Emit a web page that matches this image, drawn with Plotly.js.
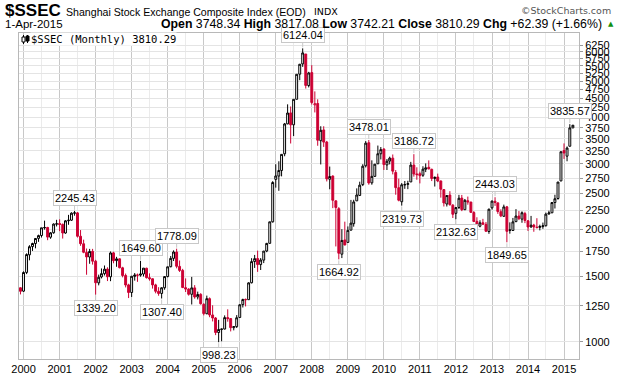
<!DOCTYPE html>
<html><head><meta charset="utf-8">
<script src="https://cdn.plot.ly/plotly-3.0.1.min.js"></script>
<style>body{margin:0;background:#fff}#c{width:626px;height:384px}</style>
</head><body><div id="c"></div>
<script>
// Monthly candles, Dec 1999 .. Apr 2015
const months = [
"1999-12-01",
"2000-01-01","2000-02-01","2000-03-01","2000-04-01","2000-05-01","2000-06-01","2000-07-01","2000-08-01","2000-09-01","2000-10-01","2000-11-01","2000-12-01",
"2001-01-01","2001-02-01","2001-03-01","2001-04-01","2001-05-01","2001-06-01","2001-07-01","2001-08-01","2001-09-01","2001-10-01","2001-11-01","2001-12-01",
"2002-01-01","2002-02-01","2002-03-01","2002-04-01","2002-05-01","2002-06-01","2002-07-01","2002-08-01","2002-09-01","2002-10-01","2002-11-01","2002-12-01",
"2003-01-01","2003-02-01","2003-03-01","2003-04-01","2003-05-01","2003-06-01","2003-07-01","2003-08-01","2003-09-01","2003-10-01","2003-11-01","2003-12-01",
"2004-01-01","2004-02-01","2004-03-01","2004-04-01","2004-05-01","2004-06-01","2004-07-01","2004-08-01","2004-09-01","2004-10-01","2004-11-01","2004-12-01",
"2005-01-01","2005-02-01","2005-03-01","2005-04-01","2005-05-01","2005-06-01","2005-07-01","2005-08-01","2005-09-01","2005-10-01","2005-11-01","2005-12-01",
"2006-01-01","2006-02-01","2006-03-01","2006-04-01","2006-05-01","2006-06-01","2006-07-01","2006-08-01","2006-09-01","2006-10-01","2006-11-01","2006-12-01",
"2007-01-01","2007-02-01","2007-03-01","2007-04-01","2007-05-01","2007-06-01","2007-07-01","2007-08-01","2007-09-01","2007-10-01","2007-11-01","2007-12-01",
"2008-01-01","2008-02-01","2008-03-01","2008-04-01","2008-05-01","2008-06-01","2008-07-01","2008-08-01","2008-09-01","2008-10-01","2008-11-01","2008-12-01",
"2009-01-01","2009-02-01","2009-03-01","2009-04-01","2009-05-01","2009-06-01","2009-07-01","2009-08-01","2009-09-01","2009-10-01","2009-11-01","2009-12-01",
"2010-01-01","2010-02-01","2010-03-01","2010-04-01","2010-05-01","2010-06-01","2010-07-01","2010-08-01","2010-09-01","2010-10-01","2010-11-01","2010-12-01",
"2011-01-01","2011-02-01","2011-03-01","2011-04-01","2011-05-01","2011-06-01","2011-07-01","2011-08-01","2011-09-01","2011-10-01","2011-11-01","2011-12-01",
"2012-01-01","2012-02-01","2012-03-01","2012-04-01","2012-05-01","2012-06-01","2012-07-01","2012-08-01","2012-09-01","2012-10-01","2012-11-01","2012-12-01",
"2013-01-01","2013-02-01","2013-03-01","2013-04-01","2013-05-01","2013-06-01","2013-07-01","2013-08-01","2013-09-01","2013-10-01","2013-11-01","2013-12-01",
"2014-01-01","2014-02-01","2014-03-01","2014-04-01","2014-05-01","2014-06-01","2014-07-01","2014-08-01","2014-09-01","2014-10-01","2014-11-01","2014-12-01",
"2015-01-01","2015-02-01","2015-03-01","2015-04-01"];

const openV = [
1397,
1368,1536,1712,1801,1836,1895,1929,2023,2027,1909,1962,2070,
2077,2066,1959,2113,2120,2214,2218,1920,1833,1738,1689,1749,
1646,1440,1494,1524,1568,1495,1733,1652,1670,1580,1507,1422,
1357,1499,1511,1510,1521,1576,1487,1477,1422,1367,1349,1397,
1497,1591,1675,1742,1594,1555,1398,1386,1342,1396,1320,1341,
1261,1190,1306,1181,1159,1060,1080,1083,1162,1155,1092,1099,
1163,1259,1300,1298,1441,1643,1673,1612,1657,1753,1838,2099,
2728,2784,2882,3194,3842,4111,3820,4472,5222,5563,5914,4867,
5273,4320,4358,3463,3701,3434,2730,2784,2389,2276,1719,1877,
1849,1994,2075,2389,2470,2641,2966,3420,2670,2779,3003,3195,
3289,2982,3055,3110,2846,2591,2376,2643,2645,2685,2979,2821,
2825,2798,2904,2939,2902,2743,2768,2701,2561,2343,2476,2326,
2212,2294,2430,2262,2390,2371,2223,2105,2043,2087,2067,1977,
2289,2383,2360,2234,2172,2302,1995,1990,2101,2175,2134,2208,
2112,2033,2057,2031,2028,2038,2049,2203,2219,2365,2424,2702,
3258,3148,3347,3748.34];

const highV = [
1400,
1546,1728,1817,1845,1899,1939,2023,2114,2035,1970,2079,2125,
2132,2077,2121,2191,2226,2245.43,2230,1995,1880,1780,1776,1776,
1660,1515,1574,1603,1585,1748,1745,1691,1675,1590,1525,1432,
1502,1530,1525,1649.60,1577,1581,1527,1480,1432,1402,1401,1498,
1591,1700,1760,1778.09,1653,1570,1480,1393,1494,1420,1364,1351,
1270,1331,1316,1254,1166,1146,1085,1178,1223,1158,1103,1180,
1262,1306,1307,1445,1677,1711,1757,1678,1752,1843,2099,2698,
2994,3050,3183,3864,4335,4278,4471,5219,5562,6124.04,5914,5298,
5522,4695,4472,3786,3786,3459,2952,2796,2395,2298,2006,2101,
2040,2403,2405,2580,2689,2995,3455,3478.01,3068,3000,3361,3330,
3306,3093,3138,3181,2889,2741,2666,2701,2704,3039,3186.72,2939,
2861,2958,3010,3067,2914,2777,2826,2708,2567,2475,2536,2342,
2298,2479,2478,2417,2453,2376,2242,2159,2119,2138,2097,2276,
2394,2443.03,2360,2268,2334,2315,2092,2150,2270,2243,2239,2233,
2122,2177,2073,2146,2062,2089,2222,2248,2369,2481,2684,3239,
3406,3342,3835.57,3817.08];

const lowV = [
1341,
1361,1520,1655,1754,1782,1855,1905,2000,1874,1890,1950,2040,
1982,1893,1950,2061,2110,2180,1905,1810,1729,1514,1620,1612,
1339.20,1418,1480,1507,1456,1455,1625,1590,1575,1490,1400,1311,
1320,1460,1449,1496,1498,1479,1460,1390,1350,1330,1307.40,1380,
1490,1585,1648,1575,1540,1394,1361,1331,1260,1306,1300,1259,
1178,1187,1165,1135,1043,998.23,1004,1080,1133,1067,1074,1090,
1161,1237,1245,1298,1435,1579,1541,1559,1627,1740,1836,2089,
2592,2542,2779,3146,3834,3404,3563,4472,5032,5462,4778,4812,
4330,4123,3357,2991,3333,2693,2566,2284,1803,1664.92,1678,1814,
1844,1990,2037,2389,2461,2617,2936,2639,2639,2770,3000,3085,
2891,2890,2992,2813,2481,2382,2319.73,2573,2568,2685,2774,2721,
2661,2770,2853,2900,2699,2610,2681,2437,2307,2307,2319,2149,
2132.63,2271,2242,2257,2333,2219,2100,2032,2029,2058,1974,1949,
2264,2316,2205,2161,2164,1849.65,1951,1983,2096,2122,2087,2082,
1984,2024,1974,2015,1991,2010,2039,2194,2215,2279,2406,2697,
3095,3050,3342,3742.21];

const closeV = [
1367,
1535,1715,1800,1836,1894,1928,2023,2026,1910,1961,2070,2073,
2065,1959,2112,2119,2214,2218,1920,1834,1739,1690,1748,1646,
1441,1491,1524,1567,1495,1732,1651,1670,1581,1507,1421,1357,
1500,1511,1510,1521,1577,1487,1477,1422,1367,1349,1397,1497,
1590,1675,1742,1595,1555,1399,1386,1342,1396,1320,1340,1266,
1191,1306,1181,1159,1060,1080,1083,1162,1155,1092,1099,1161,
1258,1299,1298,1440,1642,1672,1612,1658,1752,1837,2099,2675,
2786,2881,3183,3841,4109,3820,4471,5218,5552,5954,4871,5262,
4383,4348,3473,3693,3433,2736,2776,2397,2293,1729,1871,1820,
1991,2082,2373,2477,2632,2959,3412,2668,2779,2996,3195,3277,
2989,3051,3110,2870,2592,2398,2638,2638,2656,2979,2820,2808,
2791,2905,2928,2911,2743,2762,2701,2567,2359,2469,2333,2199,
2292,2428,2262,2397,2373,2225,2103,2047,2086,2069,1980,2269,
2385,2365,2237,2178,2301,1979,1994,2098,2175,2141,2220,2116,
2033,2056,2033,2026,2039,2048,2201,2217,2364,2420,2683,3235,
3210,3310,3747.90,3810.29];

const yTicks = [1000,1250,1500,1750,2000,2250,2500,2750,3000,3250,3500,3750,4000,4250,4500,4750,5000,5250,5500,5750,6000,6250];

// Labelled extremes: month, and whether the high ('H') or low ('L') is marked
const markMonths = ["2001-06-01","2002-01-01","2003-04-01","2003-11-01","2004-04-01","2005-06-01","2007-10-01","2008-10-01","2009-08-01","2010-07-01","2010-11-01","2012-01-01","2013-02-01","2013-06-01","2015-03-01"];
const markType   = ["H","L","H","L","H","L","H","L","H","L","H","L","H","L","H"];

const RED = "#cc0033", BLK = "#000000";

// split by close vs previous close (StockCharts colouring)
const groups = {black:{x:[],o:[],h:[],l:[],c:[]}, red:{x:[],o:[],h:[],l:[],c:[]}};
for (let i=0;i<months.length;i++){
  const prev = i>0 ? closeV[i-1] : openV[i];
  const g = closeV[i] >= prev ? groups.black : groups.red;
  g.x.push(months[i]); g.o.push(openV[i]); g.h.push(highV[i]); g.l.push(lowV[i]); g.c.push(closeV[i]);
}
function trace(g,col){
  return {type:'candlestick', x:g.x, open:g.o, high:g.h, low:g.l, close:g.c,
    line:{width:1}, whiskerwidth:0,
    increasing:{line:{color:col,width:1}, fillcolor:'#ffffff'},
    decreasing:{line:{color:col,width:1}, fillcolor:col},
    hoverinfo:'skip', showlegend:false};
}
const data = [trace(groups.black,BLK), trace(groups.red,RED)];

// plot area in pixels
const X0=19, X1=579, Y0=33, Y1=359;
const px = x => (x-X0)/(X1-X0);
const py = y => (Y1-y)/(Y1-Y0);

const annotations = [];
for (let k=0;k<markMonths.length;k++){
  const i = months.indexOf(markMonths[k]);
  const isH = markType[k]==='H';
  const v = isH ? highV[i] : lowV[i];
  annotations.push({x:months[i], y:Math.log10(v), xref:'x', yref:'y',
    text:v.toFixed(2), showarrow:true, arrowhead:0, arrowwidth:1, arrowcolor:'#c8c8c8',
    ax:0, ay: isH ? -13 : 13, standoff:1,
    font:{family:'Liberation Sans, Arial, sans-serif', size:11, color:'#000'},
    bgcolor:'#ffffff', bordercolor:'#c8c8c8', borderwidth:1, borderpad:1});
}

const n = months.length;
const last = closeV[n-1], prevC = closeV[n-2];
const chg = last - prevC, pct = chg/prevC*100;

annotations.push(
 {xref:'paper', yref:'paper', x:px(3), y:py(11), xanchor:'left', yanchor:'middle', showarrow:false,
  text:'<b>$SSEC</b>', font:{family:'Liberation Sans, Arial, sans-serif', size:17, color:'#000'}},
 {xref:'paper', yref:'paper', x:px(64), y:py(12), xanchor:'left', yanchor:'middle', showarrow:false,
  text:'Shanghai Stock Exchange Composite Index (EOD)', font:{family:'Liberation Sans, Arial, sans-serif', size:10.6, color:'#000'}},
 {xref:'paper', yref:'paper', x:px(312), y:py(12), xanchor:'left', yanchor:'middle', showarrow:false,
  text:'INDX', font:{family:'DejaVu Sans, Verdana, sans-serif', size:9.5, color:'#000'}},
 {xref:'paper', yref:'paper', x:px(613), y:py(11), xanchor:'right', yanchor:'middle', showarrow:false,
  text:'©StockCharts.com', font:{family:'DejaVu Sans, Verdana, sans-serif', size:9.5, color:'#555'}},
 {xref:'paper', yref:'paper', x:px(3), y:py(24), xanchor:'left', yanchor:'middle', showarrow:false,
  text:'1-Apr-2015', font:{family:'Liberation Sans, Arial, sans-serif', size:11.5, color:'#000'}},
 {xref:'paper', yref:'paper', x:px(604), y:py(24), xanchor:'right', yanchor:'middle', showarrow:false,
  text:'<b>Open</b> '+openV[n-1].toFixed(2)+' <b>High</b> '+highV[n-1].toFixed(2)+' <b>Low</b> '+lowV[n-1].toFixed(2)+
       ' <b>Close</b> '+last.toFixed(2)+' <b>Chg</b> +'+chg.toFixed(2)+' (+'+pct.toFixed(2)+'%)',
  font:{family:'Liberation Sans, Arial, sans-serif', size:12.3, color:'#000'}},
 {xref:'paper', yref:'paper', x:px(606), y:py(24), xanchor:'left', yanchor:'middle', showarrow:false,
  text:'▲', font:{family:'DejaVu Sans, sans-serif', size:7, color:'#109010'}},
 {xref:'paper', yref:'paper', x:px(30), y:py(39), xanchor:'left', yanchor:'middle', showarrow:false,
  text:'$SSEC (Monthly) '+last.toFixed(2), font:{family:'DejaVu Sans Mono, monospace', size:10.5, color:'#000'},
  bgcolor:'#ffffff', borderpad:0}
);

const shapes = [
 {type:'rect', xref:'paper', yref:'paper', x0:px(20), x1:px(183), y0:py(45), y1:py(34), fillcolor:'#fff', line:{width:0}, layer:'below'},
 {type:'line', xref:'paper', yref:'paper', x0:px(23.5), x1:px(23.5), y0:py(44), y1:py(35), line:{color:'#000',width:1}},
 {type:'rect', xref:'paper', yref:'paper', x0:px(22), x1:px(25), y0:py(42), y1:py(37), fillcolor:'#fff', line:{color:'#000',width:1}},
 {type:'line', xref:'paper', yref:'paper', x0:px(27.5), x1:px(27.5), y0:py(43), y1:py(35), line:{color:'#000',width:1}},
 {type:'rect', xref:'paper', yref:'paper', x0:px(26), x1:px(29), y0:py(41), y1:py(36), fillcolor:'#000', line:{color:'#000',width:1}}
];

const layout = {
  width:626, height:384,
  margin:{l:X0, r:626-X1, t:Y0, b:384-Y1, pad:0},
  paper_bgcolor:'#fff', plot_bgcolor:'#fff',
  boxgap:0.02,
  showlegend:false,
  xaxis:{type:'date', range:['1999-11-16','2015-06-02'], rangeslider:{visible:false},
    tick0:'2000-01-01', dtick:'M12', tickformat:'%Y', ticks:'',
    showgrid:true, gridcolor:'#c8c8c8', gridwidth:1,
    minor:{dtick:'M6', tick0:'2000-01-01', showgrid:true, gridcolor:'#ebebeb', ticks:''},
    showline:true, linecolor:'#b8b8b8', mirror:true, zeroline:false,
    tickfont:{family:'Liberation Sans, Arial, sans-serif', size:11, color:'#000'}, fixedrange:true},
  yaxis:{type:'log', side:'right', range:[Math.log10(900), Math.log10(6733)],
    tickvals:yTicks, ticktext:yTicks.map(String),
    ticks:'outside', ticklen:3, tickcolor:'#999',
    showgrid:true, gridcolor:'#e4e4e4', gridwidth:1,
    showline:true, linecolor:'#b8b8b8', mirror:true, zeroline:false,
    tickfont:{family:'Liberation Sans, Arial, sans-serif', size:11, color:'#000'}, fixedrange:true},
  annotations:annotations, shapes:shapes
};
Plotly.newPlot('c', data, layout, {staticPlot:true, displayModeBar:false});
</script></body></html>
